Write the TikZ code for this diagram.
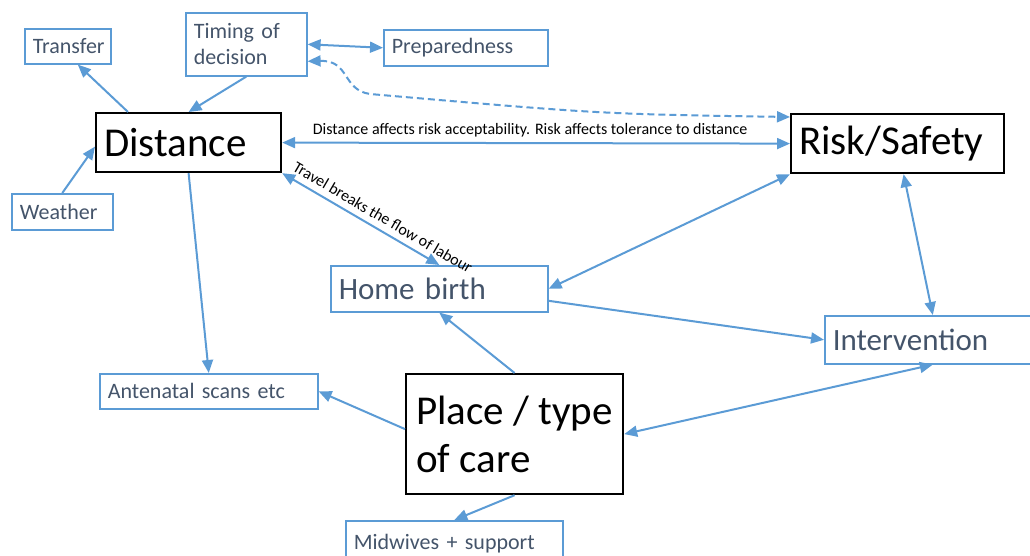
\documentclass[tikz,border=0pt]{standalone}
\usepackage{fontspec}
\setmainfont{Carlito}
\usetikzlibrary{arrows.meta,positioning}
\definecolor{linkblue}{HTML}{5B9BD5}
\definecolor{slate}{HTML}{44546A}

\begin{document}
\begin{tikzpicture}[x=1pt,y=-1pt]
  \tikzstyle{factor} = [rectangle, draw=linkblue, line width=1.6pt, text=slate, anchor=north west, inner xsep=8pt, inner ysep=0pt, align=left, font=\fontsize{22}{26}\selectfont]
  \tikzstyle{bigfactor} = [factor, font=\fontsize{31}{36}\selectfont]
  \tikzstyle{core} = [rectangle, draw=black, line width=2.2pt, text=black, anchor=north west, inner xsep=8pt, inner ysep=0pt, align=left, font=\fontsize{41}{48}\selectfont]
  \tikzstyle{link} = [draw=linkblue, line width=2pt, -{Triangle[length=13pt,width=11pt]}]
  \tikzstyle{twoway} = [draw=linkblue, line width=2pt, {Triangle[length=13pt,width=11pt]}-{Triangle[length=13pt,width=11pt]}]
  \tikzstyle{note} = [text=black, font=\fontsize{16}{18}\selectfont, inner sep=2pt]

  \useasboundingbox (0,0) rectangle (1030,556);
  \clip (0,0) rectangle (1030,556);

  \node (transfer) [factor, text width=70pt, minimum height=35pt] at (24,28) {Transfer};
  \node (timing) [factor, text width=105pt, minimum height=63pt] at (185,12) {Timing of\\decision};
  \node (prep) [factor, text width=148pt, minimum height=36pt] at (383,29) {Preparedness};
  \node (weather) [factor, text width=85pt, minimum height=36pt] at (11,193) {Weather};
  \node (distance) [core, text width=169pt, minimum height=59pt] at (95,112) {Distance};
  \node (risk) [core, text width=197pt, minimum height=59pt] at (790,113) {Risk/Safety};
  \node (home) [bigfactor, text width=201pt, minimum height=46pt] at (330,265) {Home birth};
  \node (interv) [bigfactor, text width=200pt, minimum height=48pt] at (824,315) {Intervention};
  \node (antenatal) [factor, text width=202pt, minimum height=35pt] at (99,373) {Antenatal scans etc};
  \node (place) [core, minimum width=217pt, minimum height=120pt] at (405,373) {Place / type\\of care};
  \node (midwives) [factor, text width=201pt, minimum height=46pt] at (345,520) {Midwives + support};

  \draw [link] ([xshift=33pt]distance.north west) -- ([xshift=10pt]transfer.south);
  \draw [link] (timing.south) -- (distance.north);
  \draw [link] (weather.north) -- ([yshift=-4pt]distance.west);
  \draw [twoway] (timing.east) -- (prep.west);
  % dashed link bends down under the timing box
  \draw [twoway, dash pattern=on 7pt off 4pt] ([yshift=-17pt]timing.east)
    .. controls (350,60) and (342,90) .. (370,94) .. controls (600,114) .. ([yshift=-4pt]risk.north west);
  \draw [twoway] (distance.east) -- node[note, above=3pt, xshift=-6pt] {Distance affects risk acceptability. Risk affects tolerance to distance} (risk.west);
  \draw [twoway] (distance.south east) -- node[note, sloped, above=4pt, pos=0.6] {Travel breaks the flow of labour} (home.north);
  \draw [link] (distance.south) -- (antenatal.north);
  \draw [twoway] (risk.south west) -- (home.east);
  \draw [twoway] ([xshift=6pt]risk.south) -- (interv.north);
  \draw [link] ([yshift=-12pt]home.east) -- (interv.west);
  \draw [link] (place.north) -- (home.south);
  \draw [link] ([yshift=5pt]place.west) -- (antenatal.east);
  \draw [link] (place.south) -- (midwives.north);
  \draw [twoway] (interv.south) -- (place.east);
\end{tikzpicture}
\end{document}
